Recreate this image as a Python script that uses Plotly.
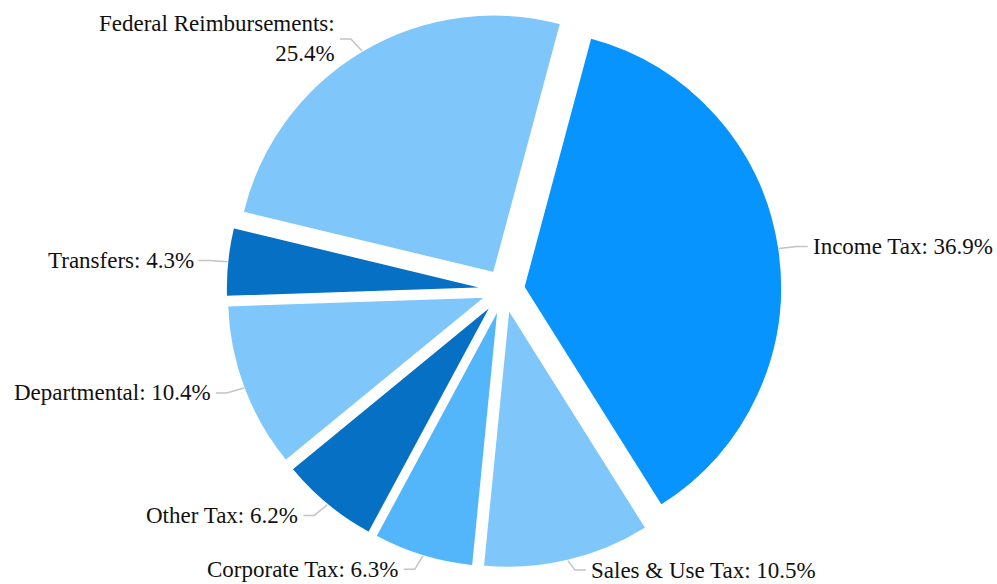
import math
import plotly.graph_objects as go

# ---- data ----
categories = ["Income Tax", "Sales & Use Tax", "Corporate Tax", "Other Tax",
              "Departmental", "Transfers", "Federal Reimbursements"]
shares = [36.9, 10.5, 6.3, 6.2, 10.4, 4.3, 25.4]
colors = ["#0894FF", "#7FC6FA", "#54B6FA", "#0670C4", "#7FC6FA", "#0670C4", "#7FC6FA"]

# ---- geometry ----
W, H = 997, 584
PULL = 0.0775
ROT = 15
dom_x = [0.2267, 0.7844]
dom_y = [0.0274, 0.9795]
FONT = "Liberation Serif, Times New Roman, serif"
FS = 23

fig = go.Figure(go.Pie(
    labels=categories, values=shares, sort=False, direction="clockwise",
    rotation=ROT, pull=[PULL] * len(shares),
    marker=dict(colors=colors, line=dict(color="white", width=1.5)),
    textinfo="none", hoverinfo="label+percent", showlegend=False,
    domain=dict(x=dom_x, y=dom_y),
))

# pixel geometry of the pie (mirrors plotly's own layout rule)
box_w = (dom_x[1] - dom_x[0]) * W
box_h = (dom_y[1] - dom_y[0]) * H
r = min(box_w, box_h) / (2 + 2 * PULL)
cx = W * (dom_x[0] + dom_x[1]) / 2
cy = H * (1 - dom_y[0]) - box_h / 2
d = PULL * r

total = sum(shares)
cum = 0.0
shapes, annots = [], []
for name, v in zip(categories, shares):
    a0 = ROT + cum / total * 360
    cum += v
    a1 = ROT + cum / total * 360
    mid = math.radians((a0 + a1) / 2)
    dx, dy = math.sin(mid), -math.cos(mid)  # screen coords (y down)
    ax = cx + (r + d) * dx
    ay = cy + (r + d) * dy
    side = 1 if dx >= 0 else -1
    ly = min(ay + 14 * dy, H - 14)
    lx = ax + side * (18 + 14 * abs(dx))
    # leader line
    bend_x = lx - side * 14
    path = f"M {ax:.1f} {H-ay:.1f} L {bend_x:.1f} {H-ly:.1f} L {lx - side*3:.1f} {H-ly:.1f}"
    shapes.append(dict(type="path", xref="x", yref="y", path=path,
                       line=dict(color="#c4c4c4", width=1.5)))
    txt = f"{name}: {v}%"
    if len(txt) > 25:
        txt = f"{name}:<br>{v}%"
    annots.append(dict(x=lx, y=H - ly, xref="x", yref="y", text=txt, showarrow=False,
                       xanchor="left" if side > 0 else "right", yanchor="middle",
                       align="left" if side > 0 else "right",
                       font=dict(family=FONT, size=FS, color="#111111")))

fig.update_layout(
    width=W, height=H, margin=dict(l=0, r=0, t=0, b=0),
    paper_bgcolor="white", plot_bgcolor="rgba(0,0,0,0)",
    xaxis=dict(range=[0, W], visible=False, fixedrange=True),
    yaxis=dict(range=[0, H], visible=False, fixedrange=True),
    shapes=shapes, annotations=annots,
)
fig.write_html("out.html", config={"displayModeBar": False},
               post_script="document.body.style.margin='0';document.body.style.overflow='hidden';")
